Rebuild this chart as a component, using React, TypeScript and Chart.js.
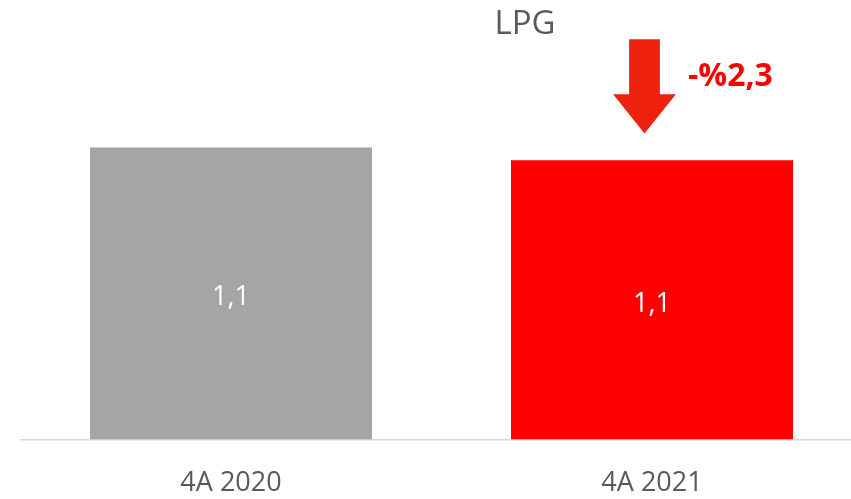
import React, { useEffect, useRef } from "react";
import { Chart, registerables } from "chart.js";

Chart.register(...registerables);

// Quarter labels and LPG volumes
const categories: string[] = ["4A 2020", "4A 2021"];
const lpgValues: number[] = [1.13, 1.08];
const barColors: string[] = ["#a5a5a5", "#ff0000"];
const chartTitle = "LPG";
const changeLabel = "-%2,3";

const FONT = "'Open Sans', 'Noto Sans', sans-serif";

const fmt = (v: number) => v.toFixed(1).replace(".", ",");

// Value labels inside bars, title, and the downward change arrow
const overlayPlugin = {
  id: "lpgOverlay",
  afterDatasetsDraw(chart: any) {
    const ctx: CanvasRenderingContext2D = chart.ctx;
    const meta = chart.getDatasetMeta(0);
    ctx.save();

    // values inside bars
    ctx.fillStyle = "#ffffff";
    ctx.font = `27px ${FONT}`;
    ctx.textAlign = "center";
    ctx.textBaseline = "alphabetic";
    meta.data.forEach((bar: any, i: number) => {
      const cy = (bar.y + bar.base) / 2;
      ctx.fillText(fmt(lpgValues[i]), bar.x, cy + 12);
    });

    // title
    ctx.fillStyle = "#595959";
    ctx.font = `33px ${FONT}`;
    ctx.textAlign = "center";
    ctx.fillText(chartTitle, 525, 34);

    // arrow above the latest bar
    const last = meta.data[meta.data.length - 1];
    const cx = last.x - 7.5;
    const top = 39.3;
    const headStart = 94.3;
    const tip = 133.6;
    const shaftHalf = 15.4;
    const headHalf = 31.4;
    ctx.fillStyle = "#ee220e";
    ctx.beginPath();
    ctx.moveTo(cx - shaftHalf, top);
    ctx.lineTo(cx + shaftHalf, top);
    ctx.lineTo(cx + shaftHalf, headStart);
    ctx.lineTo(cx + headHalf, headStart);
    ctx.lineTo(cx, tip);
    ctx.lineTo(cx - headHalf, headStart);
    ctx.lineTo(cx - shaftHalf, headStart);
    ctx.closePath();
    ctx.fill();

    // change text
    ctx.fillStyle = "#ff0000";
    ctx.font = `bold 32px ${FONT}`;
    ctx.textAlign = "left";
    ctx.fillText(changeLabel, cx + 43.5, 86);

    ctx.restore();
  },
};

export default function App() {
  const canvasRef = useRef<HTMLCanvasElement | null>(null);

  useEffect(() => {
    if (!canvasRef.current) return;
    const chart = new Chart(canvasRef.current, {
      type: "bar",
      data: {
        labels: categories,
        datasets: [
          {
            data: lpgValues,
            backgroundColor: barColors,
            borderWidth: 0,
            categoryPercentage: 1,
            barPercentage: 0.67,
          },
        ],
      },
      options: {
        responsive: false,
        animation: false,
        devicePixelRatio: 1,
        layout: { padding: { left: 20.5, right: 17.5, top: 0, bottom: 0 } },
        plugins: {
          legend: { display: false },
          title: { display: false },
          tooltip: { enabled: false },
        },
        scales: {
          x: {
            grid: { display: false, drawTicks: false },
            border: { display: true, color: "#d9d9d9", width: 1.5 },
            ticks: {
              color: "#595959",
              font: { family: FONT, size: 27 },
              padding: 28,
            },
          },
          y: {
            display: false,
            min: 0,
            max: 1.7,
          },
        },
      },
      plugins: [overlayPlugin],
    });
    return () => chart.destroy();
  }, []);

  return (
    <div
      style={{
        position: "fixed",
        left: 0,
        top: 0,
        width: 851,
        height: 499,
        overflow: "hidden",
        background: "#ffffff",
      }}
    >
      <canvas ref={canvasRef} width={880} height={528} style={{ display: "block" }} />
    </div>
  );
}
